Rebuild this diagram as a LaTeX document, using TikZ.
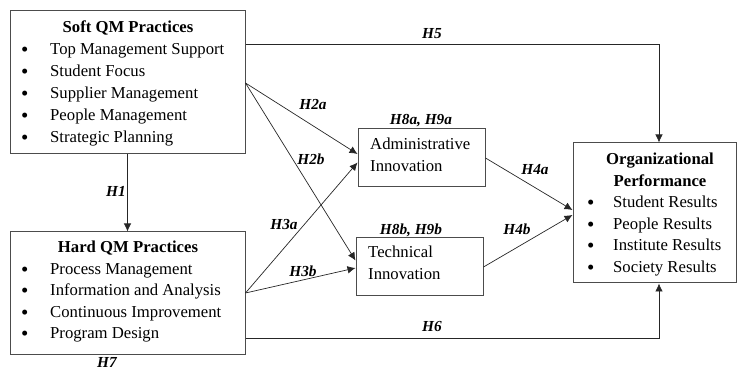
\documentclass[tikz,border=0pt]{standalone}
\usepackage{fontspec}
\setmainfont{Liberation Serif}
\usetikzlibrary{arrows.meta}
% bullet followed by its entry text, the bullet set in a box of width #1
\newcommand\qmitem[2]{\makebox[#1][l]{\raisebox{-1.6pt}{\scalebox{1.25}{\textbullet}}}#2}
\begin{document}
\begin{tikzpicture}[x=1pt,y=-1pt,
  box/.style={draw=black!70, line width=1pt, inner sep=0pt},
  link/.style={draw=black!85, line width=0.7pt, -{Latex[length=8pt,width=7.5pt]}},
  title/.style={anchor=base, font=\fontsize{16.7}{20}\selectfont\bfseries, inner sep=0pt},
  entry/.style={anchor=base west, font=\fontsize{16.7}{20}\selectfont, inner sep=0pt},
  hyp/.style={anchor=base, font=\fontsize{15.3}{18}\selectfont\bfseries\itshape, inner sep=0pt}]

\useasboundingbox (0,0) rectangle (737,371);

% constructs
\node[box, minimum width=235pt, minimum height=143pt] (soft)  at (127.5,82.5) {};
\node[box, minimum width=235pt, minimum height=123pt] (hard)  at (127.5,293.5) {};
\node[box, minimum width=127pt, minimum height=58pt]  (admin) at (421.5,158) {};
\node[box, minimum width=127pt, minimum height=58pt]  (tech)  at (419.5,267) {};
\node[box, minimum width=163pt, minimum height=140pt] (org)   at (654.5,213) {};

% soft QM practices
\node[title] (softT) at (128,33) {Soft QM Practices};
\node[entry] (soft1) at (21,55)  {\qmitem{29pt}{Top Management Support}};
\node[entry] (soft2) at (21,77)  {\qmitem{29pt}{Student Focus}};
\node[entry] (soft3) at (21,99)  {\qmitem{29pt}{Supplier Management}};
\node[entry] (soft4) at (21,121) {\qmitem{29pt}{People Management}};
\node[entry] (soft5) at (21,143) {\qmitem{29pt}{Strategic Planning}};

% hard QM practices
\node[title] (hardT) at (128,253) {Hard QM Practices};
\node[entry] (hard1) at (21,274.5) {\qmitem{29pt}{Process Management}};
\node[entry] (hard2) at (21,296)   {\qmitem{29pt}{Information and Analysis}};
\node[entry] (hard3) at (21,317.5) {\qmitem{29pt}{Continuous Improvement}};
\node[entry] (hard4) at (21,339)   {\qmitem{29pt}{Program Design}};

% innovation constructs
\node[entry] (adminA) at (370,150) {Administrative};
\node[entry] (adminB) at (370,172) {Innovation};
\node[entry] (techA)  at (368,258) {Technical};
\node[entry] (techB)  at (368,280) {Innovation};

% organizational performance
\node[title] (orgT1) at (660,165) {Organizational};
\node[title] (orgT2) at (660,187) {Performance};
\node[entry] (org1) at (587,208) {\qmitem{26pt}{Student Results}};
\node[entry] (org2) at (587,230) {\qmitem{26pt}{People Results}};
\node[entry] (org3) at (587,251) {\qmitem{26pt}{Institute Results}};
\node[entry] (org4) at (587,273) {\qmitem{26pt}{Society Results}};

% hypothesised paths
\draw[link] (soft.south) -- (hard.north);
\draw[link] ([yshift=-0.5pt]soft.east) -- ([yshift=4pt]admin.west);
\draw[link] ([yshift=-0.5pt]soft.east) -- ([yshift=6.5pt]tech.west);
\draw[link] ([yshift=0.5pt]hard.east) -- ([yshift=-4.5pt]admin.west);
\draw[link] ([yshift=0.5pt]hard.east) -- ([yshift=-1pt]tech.west);
\draw[link] (admin.east) -- ([yshift=3pt]org.west);
\draw[link] (tech.east) -- ([yshift=-2pt]org.west);
\draw[link] ([yshift=38.5pt]soft.east) -| ([xshift=4.5pt]org.north);
\draw[link] ([yshift=-44.5pt]hard.east) -| ([xshift=4.5pt]org.south);

% hypothesis labels
\node[hyp] (h1)  at (116,197) {H1};
\node[hyp] (h2a) at (313,110) {H2a};
\node[hyp] (h2b) at (311,165) {H2b};
\node[hyp] (h3a) at (284,230) {H3a};
\node[hyp] (h3b) at (303,277) {H3b};
\node[hyp] (h4a) at (535,175) {H4a};
\node[hyp] (h4b) at (517,235) {H4b};
\node[hyp] (h5)  at (432,39)  {H5};
\node[hyp] (h6)  at (432,332) {H6};
\node[hyp] (h7)  at (107,368) {H7};
\node[hyp] (h89a) at (421,125) {H8a, H9a};
\node[hyp] (h89b) at (411,235) {H8b, H9b};
\end{tikzpicture}
\end{document}
